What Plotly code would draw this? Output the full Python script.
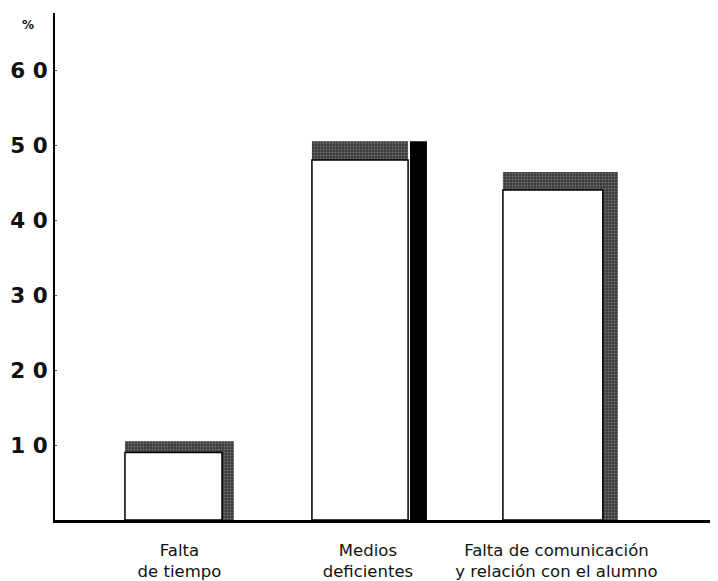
import plotly.graph_objects as go

# ---- data ----
categories = ["Falta<br>de tiempo", "Medios<br>deficientes",
              "Falta de comunicación<br>y relación con el alumno"]
values = [10.5, 50.5, 46.4]          # percentage
y_tick_vals = [10, 20, 30, 40, 50, 60]
y_tick_text = ["1 0", "2 0", "3 0", "4 0", "5 0", "6 0"]

# ---- style (3D look) ----
top_depth = [1.5, 2.5, 2.4]              # gray top band, in % units
gray_width = [0.578, 0.51, 0.61]
gray_offset = [-0.289, -0.297, -0.284]
front_width = [0.515, 0.51, 0.53]

front_vals = [v - d for v, d in zip(values, top_depth)]

stipple = dict(color="#3a3a3a",
               pattern=dict(shape=".", fgcolor="#b0b0b0", size=3,
                            solidity=0.3, fillmode="overlay"),
               line=dict(width=0))

fig = go.Figure()
# gray stippled back/side block
fig.add_trace(go.Bar(x=categories, y=values, width=gray_width, offset=gray_offset,
                     marker=stipple, hoverinfo="skip", showlegend=False))
# white front face
fig.add_trace(go.Bar(x=categories, y=front_vals, width=front_width, offset=gray_offset,
                     marker=dict(color="white", line=dict(color="black", width=1.5)),
                     hoverinfo="skip", showlegend=False))
# solid black side of second bar
fig.add_trace(go.Bar(x=[categories[1]], y=[values[1]], width=[0.09], offset=[0.223],
                     marker=dict(color="black", line=dict(width=0)),
                     hoverinfo="skip", showlegend=False))

# page body has an 8px margin; the figure starts at (8, 8) in the window
fig.update_layout(
    width=710, height=573,
    margin=dict(l=47, r=0, t=5, b=61, autoexpand=False),
    barmode="overlay",
    plot_bgcolor="white", paper_bgcolor="white",
    font=dict(family="DejaVu Sans, sans-serif", color="black"),
    xaxis=dict(type="category", range=[-0.66, 2.857], automargin=False,
               showline=True, linecolor="black", linewidth=3,
               showgrid=False, zeroline=False, ticks="",
               tickfont=dict(size=16.5, color="#111"),
               ticklabelstandoff=13),
    yaxis=dict(range=[0, 67.6], automargin=False,
               showline=True, linecolor="black", linewidth=2,
               showgrid=False, zeroline=False,
               tickvals=y_tick_vals, ticktext=y_tick_text,
               ticks="inside", ticklen=2, tickcolor="#555", tickwidth=1,
               tickfont=dict(size=21.5, weight="bold", color="#111"),
               ticklabelstandoff=1),
    annotations=[dict(text="%", xref="paper", yref="paper",
                      x=-0.041, y=0.976, xanchor="center", yanchor="middle",
                      showarrow=False,
                      font=dict(size=12, weight="bold", color="#111"))],
)

fig.write_html("out.html")
